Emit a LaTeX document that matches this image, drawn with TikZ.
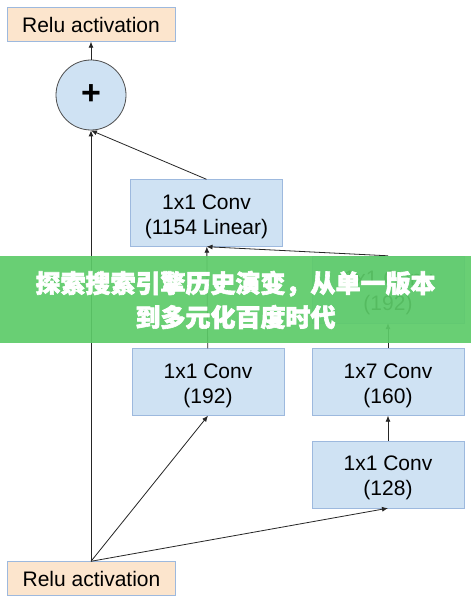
\documentclass[tikz,border=0pt]{standalone}
\usepackage{fontspec}
\setmainfont{Liberation Sans}
\newfontfamily\cjk[FakeBold=2.5]{Noto Sans CJK SC}
\usetikzlibrary{arrows.meta,positioning}
\definecolor{boxblue}{HTML}{CFE2F3}
\definecolor{edgeblue}{HTML}{9DB9DE}
\definecolor{peach}{HTML}{FCE5CD}
\definecolor{banner}{HTML}{5DCB69}
\newcommand\topgap{\rule{0pt}{22pt}}

\begin{document}
\begin{tikzpicture}[x=1pt,y=-1pt,
  conv/.style={draw=edgeblue,fill=boxblue,minimum width=152pt,minimum height=67pt,inner sep=0pt,align=center,font=\fontsize{21}{25}\selectfont},
  relu/.style={draw=edgeblue,fill=peach,minimum width=168pt,minimum height=34pt,inner sep=0pt,font=\fontsize{21}{25}\selectfont},
  link/.style={-{Latex[length=6pt,width=5pt]},black!85,line width=0.8pt}]
\useasboundingbox (0,0) rectangle (471,601);
\fill[white] (0,0) rectangle (471,601);
% blocks
\node[relu] (topRelu) at (91,24.5) {Relu activation};
\node[circle,draw=black!70,fill=boxblue,minimum size=70pt,inner sep=0pt,line width=0.8pt] (sum) at (91,95) {\fontsize{34}{34}\selectfont\bfseries +};
\node[conv] (linear) at (206.5,213) {\topgap 1x1 Conv\\(1154 Linear)};
\node[conv] (convB) at (388,289.5) {\topgap 1x1 Conv\\(192)};
\node[conv] (convA) at (208,382) {\topgap 1x1 Conv\\(192)};
\node[conv] (conv17) at (388,382) {\topgap 1x7 Conv\\(160)};
\node[conv] (conv128) at (388,474.5) {\topgap 1x1 Conv\\(128)};
\node[relu] (botRelu) at (91.5,578.5) {Relu activation};
% connections
\draw[link] (sum) -- (topRelu);
\draw[link] (linear.north) -- (sum.south);
\draw[link] ([xshift=-0.5pt]botRelu.north) -- (sum.south);
\draw[link] ([xshift=-0.5pt]botRelu.north) -- (convA.south);
\draw[link] ([xshift=-0.5pt]botRelu.north) -- (conv128.south);
\draw[link] (convA) -- (linear);
\draw[link] (convB.north) -- (linear.south);
\draw[link] (conv17) -- (convB);
\draw[link] (conv128) -- (conv17);
% banner
\fill[banner,opacity=0.92] (0,256) rectangle (471,343);
\node[white,font=\cjk\bfseries\fontsize{25}{34}\selectfont,align=center] (title) at (235.5,300) {探索搜索引擎历史演变，从单一版本\\到多元化百度时代};
\end{tikzpicture}
\end{document}
